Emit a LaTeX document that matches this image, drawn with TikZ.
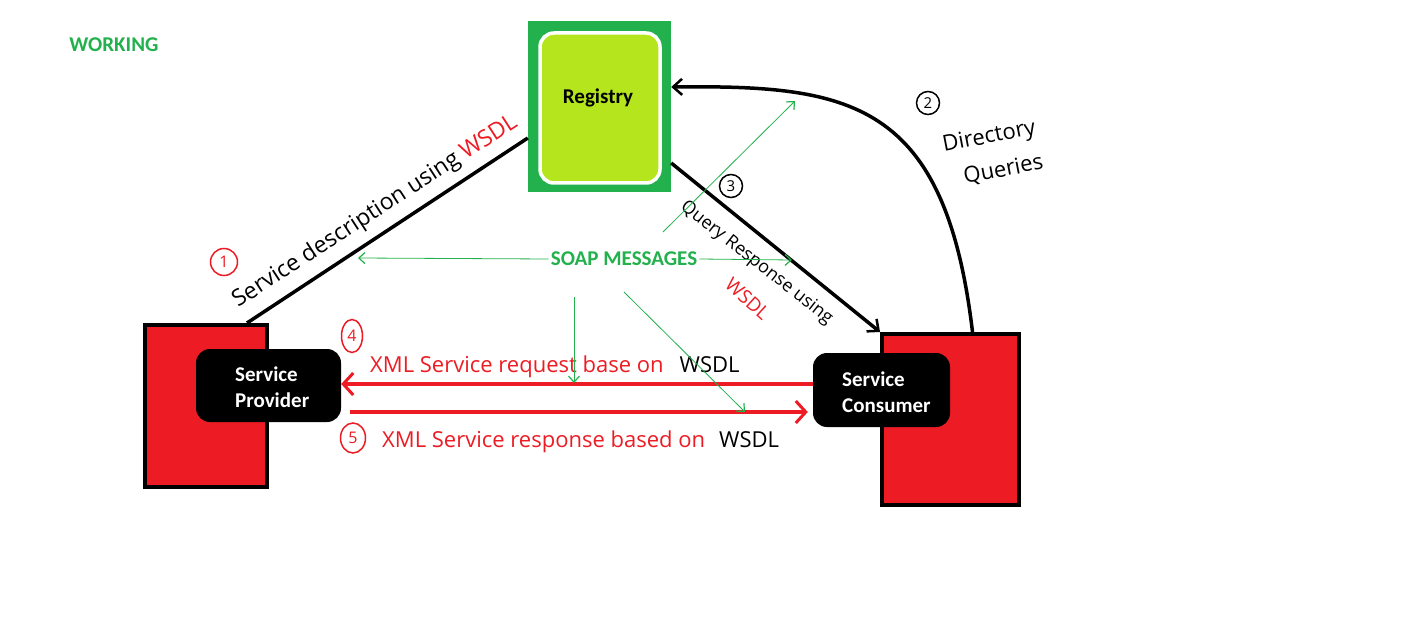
\documentclass[tikz,border=0pt]{standalone}
\usepackage{fontspec}
\setmainfont{Carlito}
\newfontfamily\hand{Open Sans}
\usetikzlibrary{arrows.meta,calc,shapes.geometric}
\definecolor{pgreen}{HTML}{22B14C}
\definecolor{plime}{HTML}{B5E61D}
\definecolor{pred}{HTML}{ED1C24}
\tikzset{
  redbox/.style={draw=black, line width=4pt, fill=pred, inner sep=0pt},
  tagbox/.style={fill=black, rounded corners=14pt, inner sep=0pt},
  tagtext/.style={text=white, font=\bfseries\fontsize{21}{26}\selectfont, align=left,
    anchor=north west, inner sep=0pt},
  boldlabel/.style={font=\bfseries\fontsize{21}{24}\selectfont},
  blackarrow/.style={line width=3.5pt, -{Straight Barb[length=9pt,width=16pt,line width=2.5pt]}},
  redarrow/.style={pred, line width=4.5pt, -{Straight Barb[length=10pt,width=22pt,line width=3pt]}},
  soaparrow/.style={pgreen, line width=0.8pt, -{Straight Barb[length=6pt,width=11pt,line width=1.2pt]}},
  handtext/.style={font=\hand\fontsize{22}{24}\selectfont, inner sep=0pt},
  numred/.style={draw=pred, text=pred, circle, line width=1.5pt, inner sep=0pt,
    minimum size=27pt, font=\hand\fontsize{16}{16}\selectfont},
  numredoval/.style={draw=pred, text=pred, ellipse, line width=1.5pt, inner sep=0pt,
    font=\hand\fontsize{16}{16}\selectfont},
  numblack/.style={draw=black, circle, line width=1.5pt, inner sep=0pt,
    minimum size=23pt, font=\hand\fontsize{15}{15}\selectfont},
}
\begin{document}
\begin{tikzpicture}[x=1pt,y=-1pt]
\useasboundingbox (0,0) rectangle (1412,628);
\fill[white] (0,0) rectangle (1412,628);

% title
\node[text=pgreen, boldlabel] (title) at (114,45) {WORKING};

% registry
\node[fill=pgreen, minimum width=143pt, minimum height=171pt, inner sep=0pt] (reg) at (599.5,106.5) {};
\node[fill=plime, draw=white, line width=3.5pt, rounded corners=14pt,
      minimum width=120pt, minimum height=150pt, inner sep=0pt] (regin) at (600,108) {};
\node[boldlabel] (regtxt) at (598,98) {Registry};

% provider and consumer
\node[redbox, minimum width=122pt, minimum height=162pt] (prov) at (206,406) {};
\node[redbox, minimum width=137pt, minimum height=171pt] (cons) at (950.5,419.5) {};
\node[tagbox, minimum width=145pt, minimum height=73pt] (pl) at (268.5,385.5) {};
\node[tagtext] (pltxt) at (235,367) {Service\\Provider};
\node[tagbox, minimum width=137pt, minimum height=74pt] (cl) at (881.5,390) {};
\node[tagtext] (cltxt) at (842,372) {Service\\Consumer};

% step 1: publish
\draw[line width=3.5pt] ([xshift=-22pt]prov.north east) -- ([yshift=-31.5pt]reg.west);
\node[numred] (n1) at (224,262) {1};
\node[handtext, font=\hand\fontsize{23}{24}\selectfont, rotate=33, anchor=base west] (l1) at (238,308)
  {Service description using \textcolor{pred}{WSDL}};

% step 2: directory queries
\draw[blackarrow] ([xshift=22pt]cons.north) .. controls (945,100) and (850,85) .. ([yshift=19.5pt]reg.east);
\node[numblack] (n2) at (928,103) {2};
\node[handtext, rotate=11, anchor=base west] (l2a) at (944,152) {Directory};
\node[handtext, rotate=11, anchor=base west] (l2b) at (965,184) {Queries};

% step 3: query response
\draw[blackarrow] ([yshift=-56.5pt]reg.east) -- (cons.north west);
\node[numblack] (n3) at (731,186) {3};
\node[handtext, font=\hand\fontsize{18}{20}\selectfont, rotate=-38, anchor=north west] (l3) at (688,198) {Query Response using};
\node[handtext, font=\hand\fontsize{19}{20}\selectfont, text=pred, rotate=-42, anchor=north west] (l3b) at (733,276) {WSDL};

% steps 4 and 5: request / response
\draw[redarrow] ([yshift=6pt]cl.west) -- ([yshift=1.5pt]pl.east);
\draw[redarrow] ([xshift=9pt,yshift=-26.5pt]pl.east) -- ([xshift=-5pt,yshift=-22pt]cl.west);
\node[numredoval, minimum width=21pt, minimum height=33pt] (n4) at (352,336) {4};
\node[handtext, text=pred, anchor=base west] (l4) at (370,372)
  {XML Service request base on\hspace{16pt}\textcolor{black}{WSDL}};
\node[numredoval, minimum width=25pt, minimum height=30pt] (n5) at (353,438) {5};
\node[handtext, text=pred, anchor=base west] (l5) at (382,447)
  {XML Service response based on\hspace{14pt}\textcolor{black}{WSDL}};

% SOAP messages
\node[text=pgreen, boldlabel, inner sep=2pt] (soap) at (624,259) {SOAP MESSAGES};
\coordinate (s1) at (358,258);
\coordinate (s2) at (792,260);
\coordinate (s3a) at (663,232);
\coordinate (s3b) at (795,101);
\coordinate (s4a) at (574,297);
\coordinate (s4b) at (574,383);
\coordinate (s5a) at (624,292);
\coordinate (s5b) at (745,412);
\draw[soaparrow] (soap.west) -- (s1);
\draw[soaparrow] (soap.east) -- (s2);
\draw[soaparrow] (s3a) -- (s3b);
\draw[soaparrow] (s4a) -- (s4b);
\draw[soaparrow] (s5a) -- (s5b);
\end{tikzpicture}
\end{document}
